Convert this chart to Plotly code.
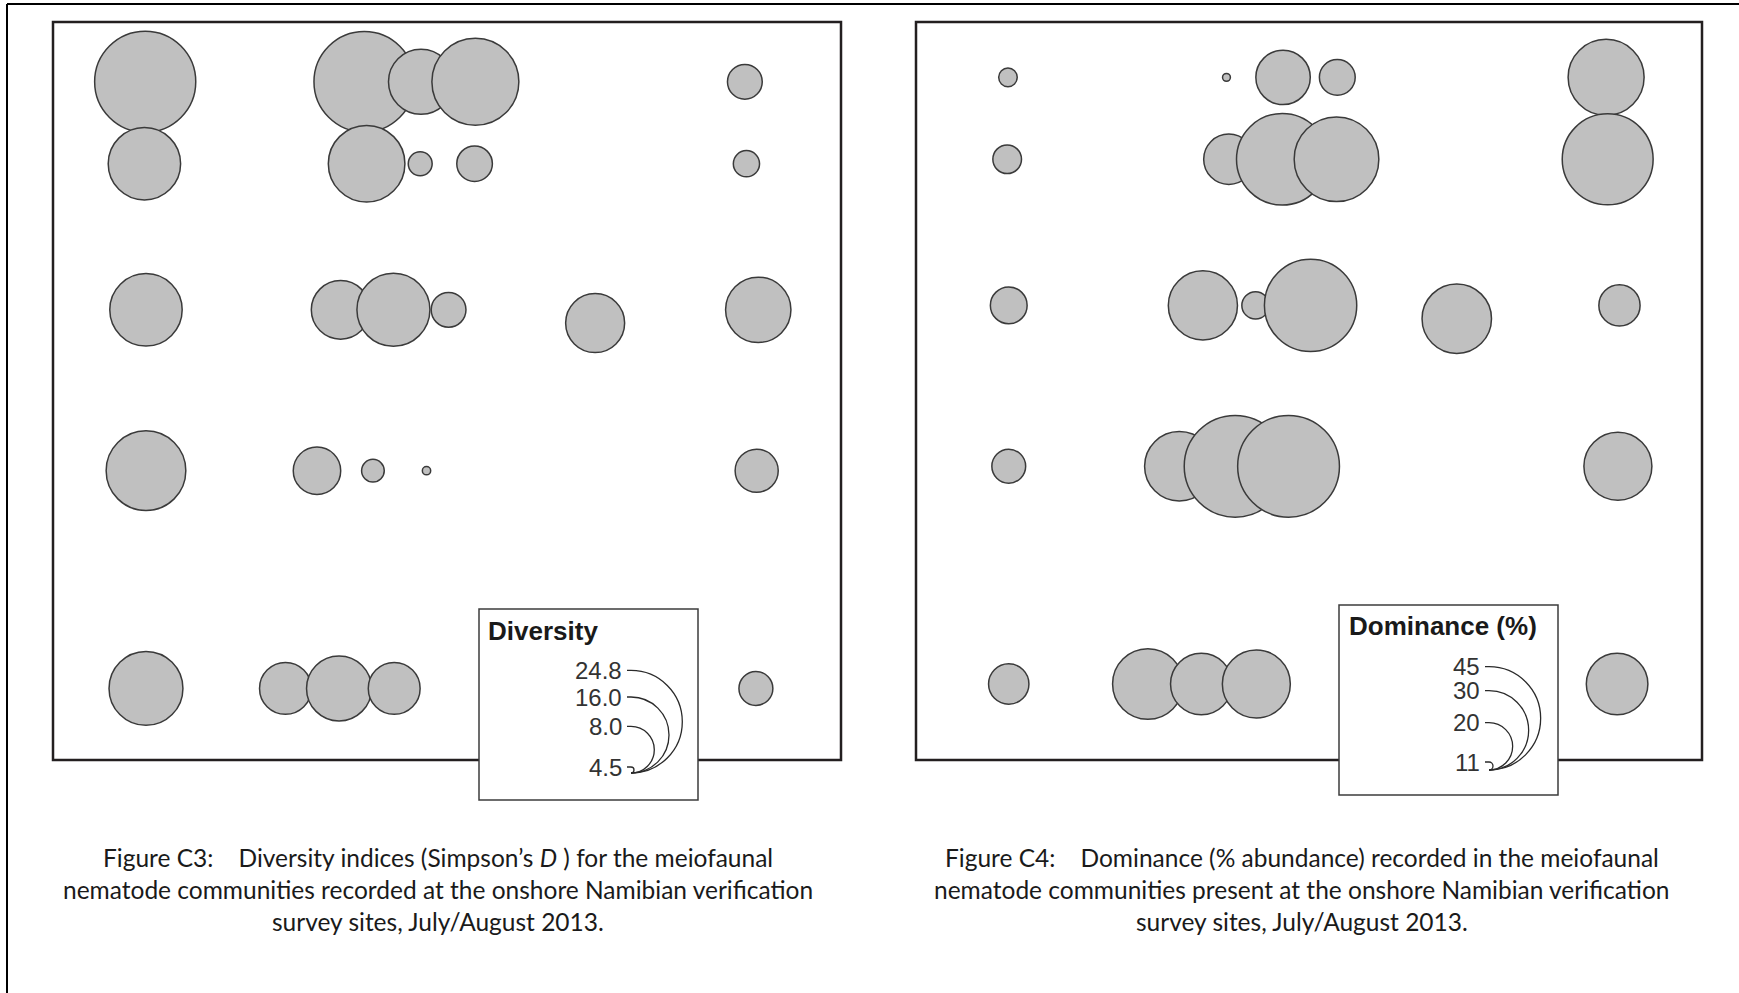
import numpy as np
import plotly.graph_objects as go

W, H = 1739, 993

# Survey site locations on the local map grid (0-100 across each map frame)
site_east = [11.7, 39.5, 46.7, 53.6, 87.8,
             11.6, 39.8, 46.6, 53.5, 88.0,
             11.8, 36.5, 43.2, 50.2, 68.8, 89.5,
             11.8, 33.5, 40.6, 47.4, 89.3,
             11.8, 29.5, 36.3, 43.3, 89.2]
site_north = [91.9, 91.9, 91.9, 91.9, 91.9,
              80.8, 80.8, 80.8, 80.8, 80.8,
              61.0, 61.0, 61.0, 61.0, 59.2, 61.0,
              39.2, 39.2, 39.2, 39.2, 39.2,
              9.7, 9.7, 9.7, 9.7, 9.7]

# Simpson's D per sample
diversity = [24.8, 24.6, 13.0, 19.8, 6.6,
             15.3, 16.6, 5.5, 6.7, 5.7,
             15.3, 11.2, 15.5, 6.6, 11.3, 13.1,
             17.5, 8.5, 5.4, 4.6, 7.7,
             15.8, 9.5, 13.0, 9.5, 6.5]

# Dominance (% abundance) per sample
dominance = [12.4, 11.1, 22.2, 16.5, 29.3,
             14.5, 21.1, 38.1, 33.9, 37.7,
             16.8, 26.8, 14.2, 38.6, 26.9, 18.3,
             15.9, 26.9, 45.0, 45.0, 26.4,
             18.0, 27.3, 24.3, 26.4, 24.3]

# Legend classes and their symbol diameters (px)
diversity_legend = [24.8, 16.0, 8.0, 4.5]
diversity_legend_text = ["24.8", "16.0", "8.0", "4.5"]
diversity_legend_diam = [102.6, 76.0, 46.6, 6.0]
dominance_legend = [45, 30, 20, 11]
dominance_legend_text = ["45", "30", "20", "11"]
dominance_legend_diam = [103.3, 79.3, 47.3, 8.0]

FILL = "#c0c0c0"
EDGE = "#3a3a3a"
EDGE_W = 1.5
FRAME = "#231f20"
LEG_FONT = "Liberation Sans, Arial, sans-serif"


def symbol_diameter(v, classes, diams):
    # symbol area interpolated linearly between legend classes
    order = np.argsort(classes)
    c = np.asarray(classes, float)[order]
    a = np.asarray(diams, float)[order] ** 2
    return np.sqrt(np.interp(v, c, a))


def px(x):
    return x / W


def py(y):
    return 1 - y / H


fig = go.Figure()

panels = [
    dict(vals=diversity, cls=diversity_legend, dia=diversity_legend_diam,
         xa="x", ya="y", box=(53, 22, 841, 760)),
    dict(vals=dominance, cls=dominance_legend, dia=dominance_legend_diam,
         xa="x2", ya="y2", box=(916, 22, 1702, 760)),
]

for p in panels:
    sizes = symbol_diameter(p["vals"], p["cls"], p["dia"]) - EDGE_W
    fig.add_trace(go.Scatter(
        x=site_east, y=site_north, mode="markers",
        xaxis=p["xa"], yaxis=p["ya"],
        marker=dict(size=list(sizes), sizemode="diameter", color=FILL,
                    line=dict(color=EDGE, width=EDGE_W), opacity=1),
        hoverinfo="skip", showlegend=False,
    ))

axis_common = dict(showgrid=False, zeroline=False, showticklabels=False,
                   ticks="", showline=False, fixedrange=True)
fig.update_layout(
    xaxis=dict(domain=[px(53), px(841)], anchor="y", range=[0, 100], **axis_common),
    yaxis=dict(domain=[py(760), py(22)], anchor="x", range=[0, 100], **axis_common),
    xaxis2=dict(domain=[px(916), px(1702)], anchor="y2", range=[0, 100], **axis_common),
    # the second map sheet is cut slightly lower than the first
    yaxis2=dict(domain=[py(760), py(22)], anchor="x2", range=[-0.6, 99.4], **axis_common),
)

shapes = []
# page border (top and left rules)
shapes.append(dict(type="line", xref="paper", yref="paper", x0=px(7), x1=px(1739),
                   y0=py(4), y1=py(4), line=dict(color="#000000", width=2)))
shapes.append(dict(type="line", xref="paper", yref="paper", x0=px(7), x1=px(7),
                   y0=py(4), y1=py(993), line=dict(color="#000000", width=2)))
# map frames
for p in panels:
    x0, y0, x1, y1 = p["box"]
    shapes.append(dict(type="rect", xref="paper", yref="paper",
                       x0=px(x0), x1=px(x1), y0=py(y1), y1=py(y0),
                       line=dict(color=FRAME, width=2.5), fillcolor="rgba(0,0,0,0)"))

annotations = []


def add_legend(box, title, values, texts, diams, cx, by, title_xy):
    bx0, by0, bx1, by1 = box
    shapes.append(dict(type="rect", xref="paper", yref="paper",
                       x0=px(bx0), x1=px(bx1), y0=py(by1), y1=py(by0),
                       line=dict(color="#3c3c3c", width=1.5), fillcolor="#ffffff"))
    annotations.append(dict(xref="paper", yref="paper", x=px(title_xy[0]), y=py(title_xy[1]),
                            xanchor="left", yanchor="middle", showarrow=False,
                            text="<b>" + title + "</b>",
                            font=dict(family=LEG_FONT, size=26, color="#1a1a1a")))
    k = 0.5523
    for v, t in zip(values, texts):
        d = float(symbol_diameter(v, values, diams))
        r = d / 2
        cy = by - r
        top = by - d
        pts = [
            (cx, cy - r),
            (cx + k * r, cy - r), (cx + r, cy - k * r), (cx + r, cy),
            (cx + r, cy + k * r), (cx + k * r, cy + r), (cx, cy + r),
        ]
        q = [(px(a), py(b)) for a, b in pts]
        path = (f"M {px(cx - 4)},{py(top)} L {q[0][0]},{q[0][1]} "
                f"C {q[1][0]},{q[1][1]} {q[2][0]},{q[2][1]} {q[3][0]},{q[3][1]} "
                f"C {q[4][0]},{q[4][1]} {q[5][0]},{q[5][1]} {q[6][0]},{q[6][1]}")
        shapes.append(dict(type="path", xref="paper", yref="paper", path=path,
                           line=dict(color="#2a2a2a", width=1.3)))
        annotations.append(dict(xref="paper", yref="paper", x=px(cx - 7), y=py(top),
                                xanchor="right", yanchor="middle", showarrow=False, text=t,
                                font=dict(family=LEG_FONT, size=24, color="#333333")))


add_legend((479, 609, 698, 800), "Diversity", diversity_legend, diversity_legend_text,
           diversity_legend_diam, cx=631, by=773, title_xy=(486, 631))
add_legend((1339, 605, 1558, 795), "Dominance (%)", dominance_legend, dominance_legend_text,
           dominance_legend_diam, cx=1489, by=770, title_xy=(1347, 626))

# figure captions
SP = "\u00a0" * 4
cap_font = dict(family="Lato, Open Sans, sans-serif", size=24.5, color="#1a1a1a")
left_caption = [
    "Figure C3:" + SP + "Diversity indices (Simpson\u2019s <i>D</i> ) for the meiofaunal",
    "nematode communities recorded at the onshore Namibian verification",
    "survey sites, July/August 2013.",
]
right_caption = [
    "Figure C4:" + SP + "Dominance (% abundance) recorded in the meiofaunal",
    "nematode communities present at the onshore Namibian verification",
    "survey sites, July/August 2013.",
]
line_y = [857, 889, 921]
for cx, lines in ((438, left_caption), (1302, right_caption)):
    for yy, t in zip(line_y, lines):
        annotations.append(dict(xref="paper", yref="paper", x=px(cx), y=py(yy),
                                xanchor="center", yanchor="middle", showarrow=False,
                                text=t, font=cap_font))

fig.update_layout(
    width=W, height=H, margin=dict(l=0, r=0, t=0, b=0),
    paper_bgcolor="#ffffff", plot_bgcolor="#ffffff",
    shapes=shapes, annotations=annotations, showlegend=False,
)

fig.write_html("out.html", config={"displayModeBar": False})
